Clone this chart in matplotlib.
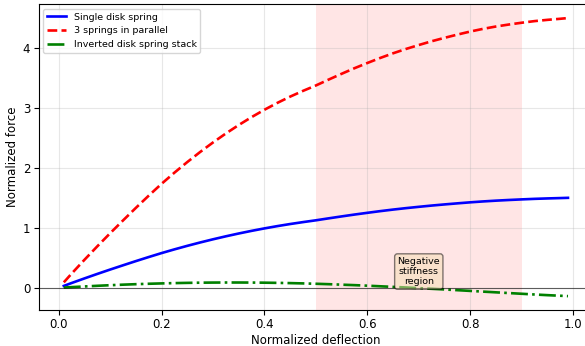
import matplotlib
matplotlib.use("Agg")
import matplotlib.pyplot as plt

# normalized deflection sample points
deflection = [0.01, 0.025, 0.05, 0.075, 0.10, 0.125, 0.15, 0.175, 0.20, 0.225, 0.25,
              0.275, 0.30, 0.325, 0.35, 0.375, 0.40, 0.425, 0.45, 0.475, 0.50,
              0.525, 0.55, 0.575, 0.60, 0.625, 0.65, 0.675, 0.70, 0.725, 0.75,
              0.775, 0.80, 0.825, 0.85, 0.875, 0.90, 0.925, 0.95, 0.975, 0.99]

single_force = [0.030, 0.078, 0.155, 0.230, 0.303, 0.374, 0.444, 0.512, 0.578, 0.640, 0.699,
                0.755, 0.808, 0.858, 0.905, 0.949, 0.990, 1.028, 1.063, 1.095, 1.125,
                1.158, 1.190, 1.221, 1.250, 1.278, 1.304, 1.328, 1.350, 1.371, 1.390,
                1.408, 1.425, 1.440, 1.453, 1.464, 1.474, 1.483, 1.490, 1.496, 1.500]

parallel_force = [0.090, 0.234, 0.465, 0.690, 0.909, 1.122, 1.332, 1.536, 1.734, 1.920, 2.097,
                  2.265, 2.424, 2.574, 2.715, 2.847, 2.970, 3.084, 3.189, 3.285, 3.375,
                  3.474, 3.570, 3.663, 3.750, 3.834, 3.912, 3.984, 4.050, 4.113, 4.170,
                  4.224, 4.275, 4.320, 4.359, 4.392, 4.422, 4.449, 4.470, 4.488, 4.500]

inverted_force = [0.003, 0.010, 0.021, 0.032, 0.042, 0.051, 0.059, 0.066, 0.072, 0.077, 0.081,
                  0.084, 0.086, 0.087, 0.087, 0.086, 0.084, 0.081, 0.077, 0.072, 0.066,
                  0.059, 0.051, 0.043, 0.034, 0.024, 0.014, 0.004, -0.007, -0.018, -0.029,
                  -0.041, -0.053, -0.065, -0.077, -0.089, -0.101, -0.113, -0.124, -0.134, -0.140]

plt.rcParams['font.size'] = 8.5

fig, ax = plt.subplots(figsize=(5.85, 3.46), dpi=100)

ax.plot(deflection, single_force, color='blue', linestyle='-', linewidth=1.9,
        label='Single disk spring')
ax.plot(deflection, parallel_force, color='red', linestyle='--', linewidth=1.9,
        label='3 springs in parallel')
ax.plot(deflection, inverted_force, color='green', linestyle='-.', linewidth=1.9,
        label='Inverted disk spring stack')

ax.axvspan(0.5, 0.9, color='red', alpha=0.1, linewidth=0)
ax.axhline(0, color='black', linewidth=0.8, alpha=0.6)

ax.text(0.7, 0.27, 'Negative\nstiffness\nregion', ha='center', va='center', fontsize=6.8,
        bbox=dict(boxstyle='round', facecolor='wheat', alpha=0.5))

ax.set_xlabel('Normalized deflection', labelpad=2)
ax.set_ylabel('Normalized force', labelpad=3)
ax.tick_params(axis='both', pad=2.5)
ax.grid(True, alpha=0.3)
ax.legend(loc='upper left', fontsize=6.8)

fig.subplots_adjust(left=0.066, right=1.014, top=0.988, bottom=0.104)
fig.savefig('out.png', dpi=100)
